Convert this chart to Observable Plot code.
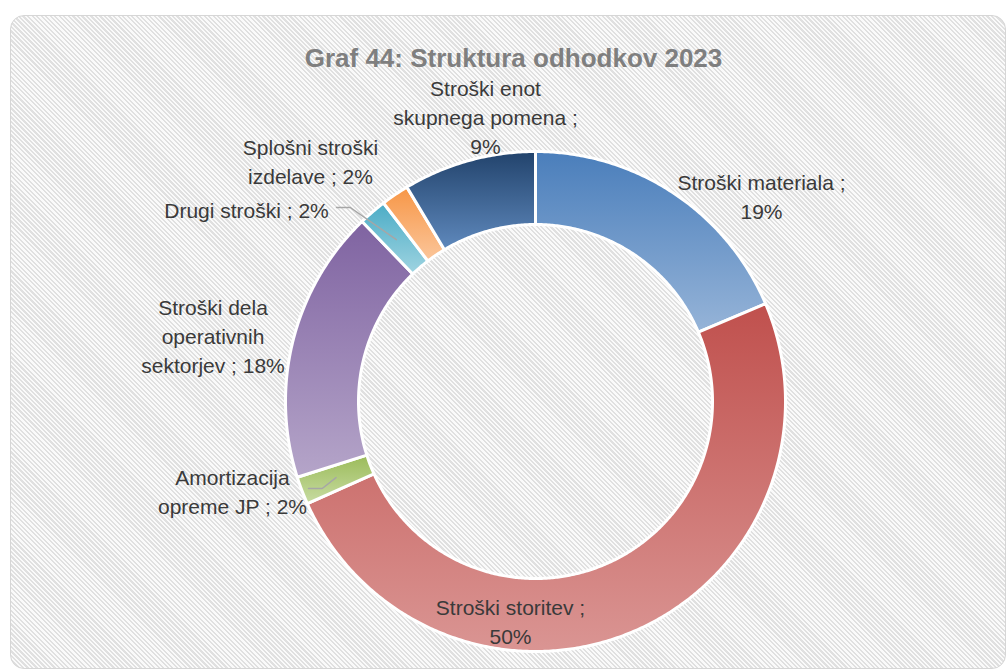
<!DOCTYPE html>
<html><head><meta charset="utf-8">
<script src="https://cdn.jsdelivr.net/npm/d3@7"></script>
<script src="https://cdn.jsdelivr.net/npm/@observablehq/plot@0.6"></script>
<style>
body{margin:0;background:#fff;overflow:hidden;}
#frame{position:absolute;left:10px;top:15px;width:996px;height:654px;border:1.5px solid #d6d6d6;border-radius:14px;
background:repeating-linear-gradient(45deg,#fafafa 0px,#fafafa 1.6px,#e0e0e0 1.6px,#e0e0e0 3.2px);box-sizing:border-box;}
#chart{position:absolute;left:0;top:0;}
</style></head><body>
<div id="frame"></div><div id="chart"></div>
<script>
// ---- data ----
const categories = ["Stroški materiala","Stroški storitev","Amortizacija opreme JP","Stroški dela operativnih sektorjev","Drugi stroški","Splošni stroški izdelave","Stroški enot skupnega pomena"];
const values = [18.6, 49.7, 1.8, 17.7, 1.8, 1.8, 8.6];
const labelPrefix = ["Stroški materiala ;\n","Stroški storitev ;\n","Amortizacija\nopreme JP ; ","Stroški dela\noperativnih\nsektorjev ; ","Drugi stroški ; ","Splošni stroški\nizdelave ; ","Stroški enot\nskupnega pomena ;\n"];
const title = "Graf 44: Struktura odhodkov 2023";
const gradTop = ["#4a7ebb","#c0504d","#9bbb59","#7f63a1","#4bacc6","#f79646","#22436c"];
const gradBottom = ["#96b4d8","#da9593","#c8dca3","#b5a5c9","#9fd4e1","#fbc69b","#5f89bd"];

// ---- layout (units of outer radius, centre at 0,0) ----
const W = 1006, H = 671, CX = 535, CY = 401, R = 250;
const rOuter = 1, rInner = 177/250, rMid = (1 + 177/250) / 2;
const labelPos = [[0.904,0.732],[-0.1,-0.968],[-1.212,-0.448],[-1.29,0.116],[-1.156,0.736],[-0.9,0.872],[-0.2,0.992]];
const leaderStart = {4: [-0.796, 0.776], 2: [-0.908, -0.348]};
const leaderElbow = 0.055;

const total = d3.sum(values);
let acc = 0;
const slices = values.map((v, i) => {
  const a0 = acc / total * 2 * Math.PI; acc += v;
  const a1 = acc / total * 2 * Math.PI;
  return {name: categories[i], a0, a1, pct: Math.round(v / total * 100)};
});
const polys = [];
for (const s of slices) {
  const n = Math.max(4, Math.ceil((s.a1 - s.a0) / (Math.PI / 360)));
  for (let k = 0; k <= n; k++) { const a = s.a0 + (s.a1 - s.a0) * k / n; polys.push({name: s.name, x: rOuter * Math.sin(a), y: rOuter * Math.cos(a)}); }
  for (let k = n; k >= 0; k--) { const a = s.a0 + (s.a1 - s.a0) * k / n; polys.push({name: s.name, x: rInner * Math.sin(a), y: rInner * Math.cos(a)}); }
}
const labels = slices.map((s, i) => ({text: labelPrefix[i] + s.pct + "%", x: labelPos[i][0], y: labelPos[i][1]}));
const leaders = [];
for (const k of Object.keys(leaderStart)) {
  const s = slices[+k], st = leaderStart[k], m = (s.a0 + s.a1) / 2;
  leaders.push({id: k, x: st[0], y: st[1]}, {id: k, x: st[0] + leaderElbow, y: st[1]}, {id: k, x: rMid * Math.sin(m), y: rMid * Math.cos(m)});
}

const plot = Plot.plot({
  width: W, height: H, margin: 0,
  style: {background: "transparent", fontFamily: "'Liberation Sans', Arial, sans-serif"},
  x: {domain: [-CX / R, (W - CX) / R], range: [0, W], axis: null},
  y: {domain: [(CY - H) / R, CY / R], range: [H, 0], axis: null},
  color: {type: "ordinal", domain: categories, range: categories.map((d, i) => `url(#g${i})`)},
  marks: [
    Plot.line(polys, {x: "x", y: "y", z: "name", fill: "name", stroke: "white", strokeWidth: 3, curve: "linear-closed"}),
    Plot.line(leaders, {x: "x", y: "y", z: "id", stroke: "#a6a6a6", strokeWidth: 1.5}),
    Plot.text(labels, {x: "x", y: "y", text: "text", fontSize: 21, fill: "#3a3a3a", lineAnchor: "bottom", lineHeight: 1.36}),
    Plot.text([title], {x: [-0.088], y: [1.34], text: d => d, fontSize: 26, fontWeight: "bold", fill: "#7f7f7f", lineAnchor: "bottom"})
  ]
});
const defs = categories.map((d, i) => `<linearGradient id="g${i}" x1="0" y1="0" x2="0" y2="1"><stop offset="0" stop-color="${gradTop[i]}"/><stop offset="1" stop-color="${gradBottom[i]}"/></linearGradient>`).join("");
plot.insertAdjacentHTML("afterbegin", `<defs>${defs}</defs>`);
document.getElementById("chart").appendChild(plot);
</script>
</body></html>
